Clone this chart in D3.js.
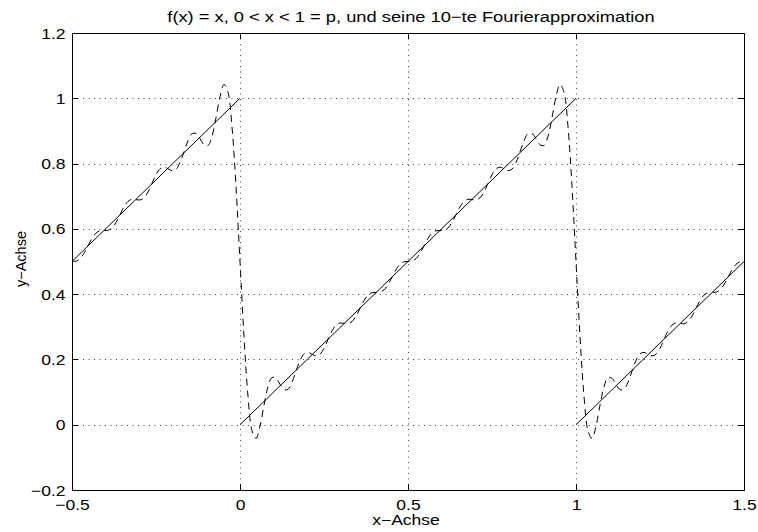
<!DOCTYPE html>
<html>
<head>
<meta charset="utf-8">
<script src="https://cdn.jsdelivr.net/npm/d3@7.9.0/dist/d3.min.js"></script>
<style>
  body { margin: 0; background: #fff; }
  svg { display: block; font-family: "Liberation Sans", Arial, sans-serif; }
  .grid line { stroke: #444; stroke-dasharray: 1 4.5; }
</style>
</head>
<body>
<svg id="chart" width="758" height="532"></svg>
<script>
const titleText = "f(x) = x, 0 < x < 1 = p, und seine 10\u2212te Fourierapproximation";
const xLabel = "x\u2212Achse";
const yLabel = "y\u2212Achse";

const xTicks = [-0.5, 0, 0.5, 1, 1.5];
const yTicks = [-0.2, 0, 0.2, 0.4, 0.6, 0.8, 1, 1.2];

// f(x) = x on each period, drawn as separate pieces
const sawtooth = [
  [[-0.5, 0.5], [0, 1]],
  [[0, 0], [1, 1]],
  [[1, 0], [1.5, 0.5]]
];

// 10th Fourier approximation
const fourier = [
  [-0.5, 0.5000], [-0.4881, 0.5010], [-0.4762, 0.5086], [-0.4643, 0.5252], [-0.4524, 0.5480],
  [-0.4405, 0.5707], [-0.4286, 0.5869], [-0.4167, 0.5941], [-0.4048, 0.5948], [-0.3929, 0.5955],
  [-0.3810, 0.6028], [-0.3690, 0.6197], [-0.3571, 0.6434], [-0.3452, 0.6673], [-0.3333, 0.6841],
  [-0.3214, 0.6907], [-0.3095, 0.6897], [-0.2976, 0.6885], [-0.2857, 0.6950], [-0.2738, 0.7128],
  [-0.2619, 0.7392], [-0.25, 0.7659], [-0.2381, 0.7840], [-0.2262, 0.7891], [-0.2143, 0.7841],
  [-0.2024, 0.7785], [-0.1905, 0.7829], [-0.1786, 0.8031], [-0.1667, 0.8359], [-0.1548, 0.8698],
  [-0.1429, 0.8913], [-0.1310, 0.8924], [-0.1190, 0.8763], [-0.1071, 0.8577], [-0.0952, 0.8554],
  [-0.0833, 0.8837], [-0.0714, 0.9404], [-0.0595, 1.0048], [-0.0476, 1.0423], [-0.0357, 1.0183],
  [-0.0238, 0.9125], [-0.0119, 0.7296],
  [0, 0.5000], [0.0119, 0.2704], [0.0238, 0.0875], [0.0357, -0.0183], [0.0476, -0.0423],
  [0.0595, -0.0048], [0.0714, 0.0596], [0.0833, 0.1163], [0.0952, 0.1446], [0.1071, 0.1423],
  [0.1190, 0.1237], [0.1310, 0.1076], [0.1429, 0.1087], [0.1548, 0.1302], [0.1667, 0.1641],
  [0.1786, 0.1969], [0.1905, 0.2171], [0.2024, 0.2215], [0.2143, 0.2159], [0.2262, 0.2109],
  [0.2381, 0.2160], [0.25, 0.2341], [0.2619, 0.2608], [0.2738, 0.2872], [0.2857, 0.3050],
  [0.2976, 0.3115], [0.3095, 0.3103], [0.3214, 0.3093], [0.3333, 0.3159], [0.3452, 0.3327],
  [0.3571, 0.3566], [0.3690, 0.3803], [0.3810, 0.3972], [0.3929, 0.4045], [0.4048, 0.4052],
  [0.4167, 0.4059], [0.4286, 0.4131], [0.4405, 0.4293], [0.4524, 0.4520], [0.4643, 0.4748],
  [0.4762, 0.4914], [0.4881, 0.4990],
  [0.5, 0.5000], [0.5119, 0.5010], [0.5238, 0.5086], [0.5357, 0.5252], [0.5476, 0.5480],
  [0.5595, 0.5707], [0.5714, 0.5869], [0.5833, 0.5941], [0.5952, 0.5948], [0.6071, 0.5955],
  [0.6190, 0.6028], [0.6310, 0.6197], [0.6429, 0.6434], [0.6548, 0.6673], [0.6667, 0.6841],
  [0.6786, 0.6907], [0.6905, 0.6897], [0.7024, 0.6885], [0.7143, 0.6950], [0.7262, 0.7128],
  [0.7381, 0.7392], [0.75, 0.7659], [0.7619, 0.7840], [0.7738, 0.7891], [0.7857, 0.7841],
  [0.7976, 0.7785], [0.8095, 0.7829], [0.8214, 0.8031], [0.8333, 0.8359], [0.8452, 0.8698],
  [0.8571, 0.8913], [0.8690, 0.8924], [0.8810, 0.8763], [0.8929, 0.8577], [0.9048, 0.8554],
  [0.9167, 0.8837], [0.9286, 0.9404], [0.9405, 1.0048], [0.9524, 1.0423], [0.9643, 1.0183],
  [0.9762, 0.9125], [0.9881, 0.7296],
  [1, 0.5000], [1.0119, 0.2704], [1.0238, 0.0875], [1.0357, -0.0183], [1.0476, -0.0423],
  [1.0595, -0.0048], [1.0714, 0.0596], [1.0833, 0.1163], [1.0952, 0.1446], [1.1071, 0.1423],
  [1.1190, 0.1237], [1.1310, 0.1076], [1.1429, 0.1087], [1.1548, 0.1302], [1.1667, 0.1641],
  [1.1786, 0.1969], [1.1905, 0.2171], [1.2024, 0.2215], [1.2143, 0.2159], [1.2262, 0.2109],
  [1.2381, 0.2160], [1.25, 0.2341], [1.2619, 0.2608], [1.2738, 0.2872], [1.2857, 0.3050],
  [1.2976, 0.3115], [1.3095, 0.3103], [1.3214, 0.3093], [1.3333, 0.3159], [1.3452, 0.3327],
  [1.3571, 0.3566], [1.3690, 0.3803], [1.3810, 0.3972], [1.3929, 0.4045], [1.4048, 0.4052],
  [1.4167, 0.4059], [1.4286, 0.4131], [1.4405, 0.4293], [1.4524, 0.4520], [1.4643, 0.4748],
  [1.4762, 0.4914], [1.4881, 0.4990], [1.5, 0.5000]
];

const width = 758;
const height = 532;
const margin = { top: 33, right: 14, bottom: 42, left: 72 };
const stretch = 1.17; // reference text is a bit wider than Arial

const svg = d3.select("#chart");

const x = d3.scaleLinear()
  .domain([-0.5, 1.5])
  .range([margin.left, width - margin.right]);

const y = d3.scaleLinear()
  .domain([-0.2, 1.2])
  .range([height - margin.bottom, margin.top]);

const fmt = d3.format("~g");

// dotted grid
const grid = svg.append("g").attr("class", "grid");

grid.selectAll("line.v")
  .data(xTicks.slice(1, -1))
  .join("line")
  .attr("class", "v")
  .attr("x1", d => Math.round(x(d)) + 0.5)
  .attr("x2", d => Math.round(x(d)) + 0.5)
  .attr("y1", y(1.2))
  .attr("y2", y(-0.2));

grid.selectAll("line.h")
  .data(yTicks.slice(1, -1))
  .join("line")
  .attr("class", "h")
  .attr("x1", x(-0.5))
  .attr("x2", x(1.5))
  .attr("y1", d => Math.round(y(d)) + 0.5)
  .attr("y2", d => Math.round(y(d)) + 0.5);

// axes, ticks pointing inwards on all four sides
const tick = 6;

const xAxis = svg.append("g")
  .attr("transform", `translate(0,${y(-0.2)})`)
  .call(d3.axisBottom(x).tickValues(xTicks).tickFormat(fmt)
    .tickSizeInner(-tick).tickSizeOuter(0).tickPadding(0));

xAxis.selectAll("text")
  .attr("y", 9)
  .attr("dy", "0.71em")
  .attr("transform", `scale(${stretch},1)`)
  .style("font-size", "15px")
  .style("font-family", "Liberation Sans, Arial, sans-serif")
  .attr("fill", "#000");

const yAxis = svg.append("g")
  .attr("transform", `translate(${x(-0.5)},0)`)
  .call(d3.axisLeft(y).tickValues(yTicks).tickFormat(fmt)
    .tickSizeInner(-tick).tickSizeOuter(0).tickPadding(0));

yAxis.selectAll("text")
  .attr("x", -5.5)
  .attr("dy", "0.34em")
  .attr("transform", `scale(${stretch},1)`)
  .style("font-size", "15px")
  .style("font-family", "Liberation Sans, Arial, sans-serif")
  .attr("fill", "#000");

svg.append("g")
  .attr("transform", `translate(0,${y(1.2)})`)
  .call(d3.axisTop(x).tickValues(xTicks).tickFormat("")
    .tickSizeInner(-tick).tickSizeOuter(0));

svg.append("g")
  .attr("transform", `translate(${x(1.5)},0)`)
  .call(d3.axisRight(y).tickValues(yTicks).tickFormat("")
    .tickSizeInner(-tick).tickSizeOuter(0));

svg.selectAll(".domain").remove();
svg.selectAll(".tick line").attr("stroke", "#000").attr("shape-rendering", "crispEdges");

svg.append("rect")
  .attr("x", x(-0.5))
  .attr("y", y(1.2))
  .attr("width", x(1.5) - x(-0.5))
  .attr("height", y(-0.2) - y(1.2))
  .attr("fill", "none")
  .attr("stroke", "#000")
  .attr("shape-rendering", "crispEdges");

// curves
const line = d3.line()
  .x(d => x(d[0]))
  .y(d => y(d[1]));

svg.append("g")
  .selectAll("path")
  .data(sawtooth)
  .join("path")
  .attr("d", line)
  .attr("fill", "none")
  .attr("stroke", "#000")
  .attr("stroke-width", 1);

svg.append("path")
  .datum(fourier)
  .attr("d", line.curve(d3.curveCatmullRom))
  .attr("fill", "none")
  .attr("stroke", "#000")
  .attr("stroke-width", 1)
  .attr("stroke-dasharray", "7 5");

// texts
svg.append("text")
  .attr("transform", `translate(411,22) scale(1.22,1)`)
  .attr("text-anchor", "middle")
  .style("font-size", "15px")
  .text(titleText);

svg.append("text")
  .attr("transform", `translate(406,525) scale(1.21,1)`)
  .attr("text-anchor", "middle")
  .style("font-size", "14.5px")
  .text(xLabel);

svg.append("text")
  .attr("transform", `translate(26,259) rotate(-90)`)
  .attr("text-anchor", "middle")
  .style("font-size", "14.5px")
  .text(yLabel);
</script>
</body>
</html>
